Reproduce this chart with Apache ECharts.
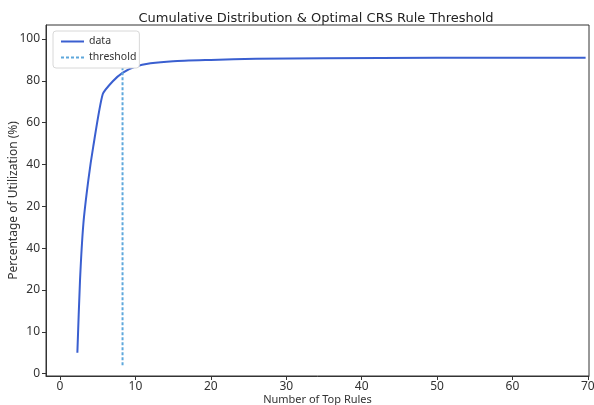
<!DOCTYPE html>
<html>
<head>
<meta charset="utf-8">
<script src="https://cdn.jsdelivr.net/npm/echarts@6/dist/echarts.min.js"></script>
<style>
html,body{margin:0;padding:0;background:#fff;}
#chart{width:594px;height:405px;}
</style>
</head>
<body>
<div id="chart"></div>
<script>
// Y positions are expressed in tick-slot units (0..8) because the reference's
// y tick labels are not monotonic; yTickLabels gives the text at each slot.
const yTickLabels = ['0', '10', '20', '40', '20', '40', '60', '80', '100'];
const yTickPositions = [0, 1, 2, 3, 4, 5, 6, 7, 8];
const xTickValues = [0, 10, 20, 30, 40, 50, 60, 70];

const topRules = [2.3, 2.65, 3.1, 3.75, 4.4, 5.66, 7, 8.29, 10, 12, 15, 20, 26, 35, 50, 69.7];
const utilization = [0.50, 2.23, 3.59, 4.62, 5.42, 6.68, 6.99, 7.19, 7.34, 7.42, 7.47, 7.50, 7.53, 7.54, 7.55, 7.55];

const thresholdX = [8.29, 8.29];
const thresholdY = [0.2, 7.35];

const chart = echarts.init(document.getElementById('chart'));
const zip = (a, b) => a.map((v, i) => [v, b[i]]);

chart.setOption({
  animation: false,
  backgroundColor: '#fff',
  title: {
    text: 'Cumulative Distribution & Optimal CRS Rule Threshold',
    left: 311, textAlign: 'center', top: 7,
    textStyle: { fontFamily: 'DejaVu Sans', fontSize: 13, fontWeight: 'normal', color: '#222' }
  },
  grid: { left: 46, right: 5, top: 25, bottom: 29, outerBoundsMode: 'none', containLabel: false,
          show: true, borderColor: '#333', borderWidth: 1, backgroundColor: 'transparent' },
  legend: {
    orient: 'vertical', left: 53, top: 31,
    backgroundColor: '#fff', borderColor: '#d8d8d8', borderWidth: 1, borderRadius: 3,
    padding: [5, 3, 5, 7], itemGap: 5, itemWidth: 23, itemHeight: 10,
    itemStyle: { opacity: 0 },
    textStyle: { fontFamily: 'Noto Sans', fontSize: 10.5, color: '#333' },
    data: ['data', 'threshold']
  },
  xAxis: {
    type: 'value', min: -1.86, max: 70.15,
    name: 'Number of Top Rules', nameLocation: 'middle', nameGap: 18, nameMoveOverlap: false,
    nameTextStyle: { fontFamily: 'Noto Sans', fontSize: 11, color: '#333' },
    axisLine: { show: true, onZero: false, lineStyle: { color: '#333' } },
    axisTick: { show: true, length: 4, lineStyle: { color: '#333' }, customValues: xTickValues },
    axisLabel: { fontFamily: 'Noto Sans', fontSize: 12, color: '#333', margin: 5, customValues: xTickValues },
    splitLine: { show: false }
  },
  yAxis: {
    type: 'value', min: -0.057, max: 8.335,
    name: 'Percentage of Utilization (%)', nameLocation: 'middle', nameGap: 26, nameMoveOverlap: false,
    nameTextStyle: { fontFamily: 'Noto Sans', fontSize: 12, color: '#333' },
    axisLine: { show: true, onZero: false, lineStyle: { color: '#333' } },
    axisTick: { show: true, length: 4, lineStyle: { color: '#333' }, customValues: yTickPositions },
    axisLabel: {
      fontFamily: 'Noto Sans', fontSize: 12, color: '#333', margin: 6,
      customValues: yTickPositions,
      formatter: v => yTickLabels[Math.round(v)]
    },
    splitLine: { show: false }
  },
  series: [
    {
      name: 'data', type: 'line', data: zip(topRules, utilization),
      symbol: 'none', smooth: 0.2,
      lineStyle: { color: '#3a5fd0', width: 2 }, itemStyle: { color: '#3a5fd0' }
    },
    {
      name: 'threshold', type: 'line', data: zip(thresholdX, thresholdY),
      symbol: 'none',
      lineStyle: { color: '#5ea8dc', width: 2, type: [3, 2] }, itemStyle: { color: '#5ea8dc' }
    }
  ]
});
</script>
</body>
</html>
